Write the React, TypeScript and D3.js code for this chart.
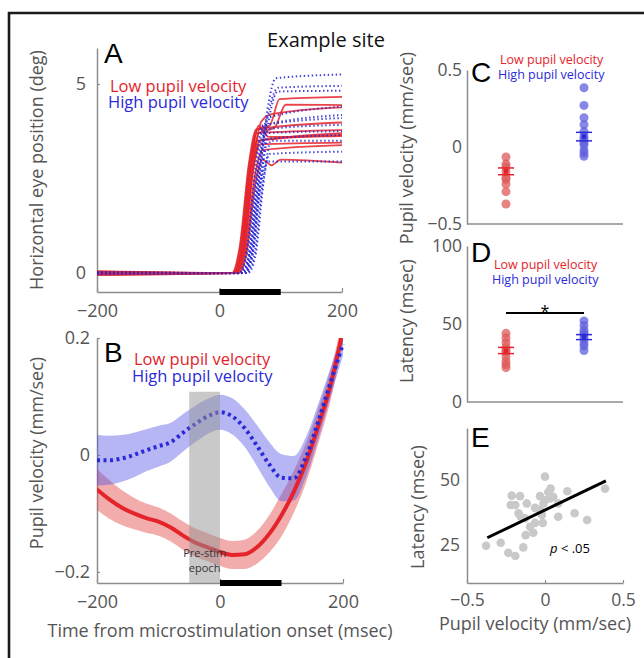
import * as d3 from "d3";
import { useRef, useEffect } from "react";

const W = 644;
const H = 658;
const FONT = "'Open Sans', sans-serif";
const LETTER_FONT = "'Liberation Sans', Arial, sans-serif";
const RED = "#e4232a";
const BLUE = "#2a2ad8";
const GREY = "#555";
const AXIS = "#8c8c8c";

// ---- panel A: single-trial horizontal eye traces (ms, deg)
const lowTraces = [
  [[-200, 0], [22, 0], [35, 0.6], [50, 2.8], [62, 3.8], [82, 3.9], [98, 4.6], [200, 4.66]],
  [[-200, 0.05], [25, 0], [38, 0.6], [52, 2.7], [64, 3.7], [90, 3.85], [108, 4.45], [200, 4.44]],
  [[-200, -0.05], [28, 0], [40, 0.5], [55, 2.8], [68, 4.0], [85, 4.2], [200, 4.38]],
  [[-200, 0], [20, 0], [33, 0.7], [48, 2.9], [60, 3.8], [200, 3.98]],
  [[-200, 0.04], [26, 0], [38, 0.5], [53, 2.6], [66, 3.5], [200, 3.7]],
  [[-200, -0.04], [24, 0], [36, 0.6], [50, 2.7], [62, 3.5], [200, 3.65]],
  [[-200, 0], [30, 0], [42, 0.5], [57, 2.5], [70, 3.25], [200, 3.38]],
  [[-200, 0.03], [32, 0], [44, 0.5], [58, 2.3], [70, 3.0], [85, 2.85], [100, 3.0], [200, 2.92]],
  [[-200, -0.03], [21, 0], [34, 0.7], [49, 2.9], [61, 3.7], [200, 3.78]],
  [[-200, 0.02], [27, 0], [40, 0.6], [54, 2.6], [66, 3.4], [200, 3.45]],
  [[-200, 0], [23, 0], [36, 0.6], [51, 2.8], [64, 3.9], [80, 3.6], [200, 3.62]],
];
const highTraces = [
  [[-200, 0], [36, 0], [48, 0.5], [62, 2.5], [74, 3.9], [92, 5.15], [200, 5.25]],
  [[-200, 0.03], [38, 0], [50, 0.5], [64, 2.5], [76, 3.9], [96, 4.9], [200, 4.95]],
  [[-200, -0.03], [40, 0], [52, 0.5], [66, 2.6], [78, 4.1], [200, 4.4]],
  [[-200, 0], [34, 0], [46, 0.6], [60, 2.6], [72, 3.9], [200, 4.18]],
  [[-200, 0.02], [38, 0], [50, 0.5], [64, 2.5], [76, 3.8], [200, 3.92]],
  [[-200, -0.02], [42, 0], [54, 0.5], [68, 2.5], [80, 3.55], [200, 3.65]],
  [[-200, 0], [44, 0], [56, 0.4], [70, 2.3], [82, 3.15], [200, 3.21]],
  [[-200, 0.02], [36, 0], [48, 0.5], [62, 2.6], [74, 3.7], [200, 3.75]],
  [[-200, -0.02], [40, 0], [52, 0.4], [66, 2.2], [78, 2.95], [200, 2.95]],
  [[-200, 0], [32, 0], [44, 0.6], [58, 2.7], [70, 3.9], [200, 4.1]],
  [[-200, 0], [46, 0], [58, 0.4], [72, 2.4], [84, 3.5], [200, 3.5]],
  [[-200, 0], [42, 0], [54, 0.5], [68, 2.6], [80, 4.0], [95, 4.8], [200, 4.82]],
];
const stimEpoch = [0, 100];

// ---- panel B: mean pupil velocity +/- SE (mm/sec)
const bTime = [-200, -180, -160, -140, -120, -100, -80, -60, -40, -20, 0, 20, 40, 60, 80, 100, 120, 140, 160, 180, 200];
const lowMean = [-0.059, -0.076, -0.09, -0.1, -0.108, -0.114, -0.124, -0.138, -0.15, -0.158, -0.166, -0.171, -0.17, -0.158, -0.135, -0.103, -0.063, -0.013, 0.05, 0.12, 0.215];
const lowSE = [0.035, 0.033, 0.03, 0.027, 0.025, 0.024, 0.024, 0.024, 0.024, 0.024, 0.024, 0.024, 0.025, 0.028, 0.032, 0.036, 0.036, 0.034, 0.03, 0.026, 0.022];
const highMean = [-0.009, -0.009, -0.006, 0, 0.008, 0.015, 0.022, 0.038, 0.053, 0.066, 0.073, 0.066, 0.046, 0.016, -0.016, -0.039, -0.04, -0.003, 0.058, 0.125, 0.19];
const highSE = [0.043, 0.042, 0.04, 0.038, 0.036, 0.035, 0.033, 0.032, 0.031, 0.03, 0.03, 0.031, 0.032, 0.035, 0.038, 0.04, 0.038, 0.034, 0.03, 0.025, 0.02];
const preStim = [-50, 0];
const preStimTop = 0.108;

// ---- panel C: pre-stim pupil velocity per trial
const cLow = [-0.065, -0.11, -0.16, -0.195, -0.24, -0.29, -0.37, -0.13, -0.21];
const cHigh = [0.385, 0.27, 0.19, 0.145, 0.1, 0.05, 0.013, -0.02, -0.06, 0.03, -0.04, 0.07];
const cLowStat = { mean: -0.158, lo: -0.18, hi: -0.136 };
const cHighStat = { mean: 0.068, lo: 0.04, hi: 0.095 };

// ---- panel D: saccade latency per trial (msec)
const dLow = [44, 41, 38, 35, 32, 29, 26, 24, 22, 33];
const dHigh = [52, 49, 46, 43, 41, 38, 36, 33, 44];
const dLowStat = { mean: 32.9, lo: 31, hi: 35 };
const dHighStat = { mean: 41.9, lo: 40, hi: 43.2 };
const dSigLevel = 57;

// ---- panel E: latency vs pupil velocity
const eX = [-0.378, -0.284, -0.235, -0.19, -0.139, -0.124, -0.096, -0.075, -0.064, -0.014, -0.213, -0.16, -0.22, -0.19, -0.117, -0.17, -0.155, -0.128, -0.064, -0.032, 0, -0.032, 0, 0.021, 0.036, 0.053, 0.032, 0.085, 0.085, 0.143, 0.19, 0.27, 0.385, -0.02, -0.01];
const eY = [24.7, 25.9, 22, 20.8, 24.1, 28.8, 32, 29.7, 33.5, 33.5, 44, 43.8, 40.4, 40.4, 41, 37.2, 35.9, 35.3, 39.3, 38.6, 51.3, 43.8, 42.3, 45.4, 46.7, 43.5, 42.9, 41, 35.9, 45.7, 37.2, 34.6, 46.7, 36.6, 41];
const fitX = [-0.37, 0.39];
const fitY = [27.8, 49.7];

function Axis({ axis, transform, size = 18 }) {
  const ref = useRef(null);
  useEffect(() => {
    const g = d3.select(ref.current);
    g.call(axis);
    g.attr("font-size", size).attr("font-family", FONT);
    g.select(".domain").attr("stroke", AXIS).attr("stroke-width", 1.5);
    g.selectAll(".tick line").attr("stroke", AXIS).attr("stroke-width", 1.2);
    g.selectAll(".tick text").attr("fill", GREY);
  }, [axis, size]);
  return <g ref={ref} transform={transform} />;
}

function YTitle({ x, y, text, size = 18 }) {
  return (
    <text transform={`translate(${x},${y}) rotate(-90)`} textAnchor="middle" fontSize={size} fill={GREY} fontFamily={FONT}>
      {text}
    </text>
  );
}

function Legend({ x, y, gap, size }) {
  return (
    <g fontFamily={FONT} fontSize={size}>
      <text x={x} y={y} fill={RED}>Low pupil velocity</text>
      <text x={x - 2} y={y + gap} fill={BLUE}>High pupil velocity</text>
    </g>
  );
}

function Letter({ x, y, t }) {
  return (
    <text x={x} y={y} fontSize={28} fontFamily={LETTER_FONT} fill="#000">{t}</text>
  );
}

function StatMarks({ x, stat, y, color }) {
  return (
    <g stroke={color} strokeWidth={1.5}>
      <line x1={x - 8} x2={x + 8} y1={y(stat.lo)} y2={y(stat.lo)} />
      <line x1={x - 8} x2={x + 8} y1={y(stat.hi)} y2={y(stat.hi)} />
      <rect x={x - 1.5} y={y(stat.mean) - 1.5} width={3} height={3} fill={color} />
    </g>
  );
}

export default function App() {
  // A
  const xA = d3.scaleLinear().domain([-200, 200]).range([97, 342]);
  const yA = d3.scaleLinear().domain([-0.5, 5.95]).range([292, 48]);
  const lineA = d3.line().x((d) => xA(d[0])).y((d) => yA(d[1])).curve(d3.curveMonotoneX);

  // B
  const xB = d3.scaleLinear().domain([-200, 200]).range([97, 343]);
  const yB = d3.scaleLinear().domain([-0.219, 0.2]).range([583, 338]);
  const idx = bTime.map((_, i) => i);
  const meanLine = (m) =>
    d3.line().x((i) => xB(bTime[i])).y((i) => yB(m[i])).curve(d3.curveMonotoneX)(idx);
  const band = (m, s) =>
    d3
      .area()
      .x((i) => xB(bTime[i]))
      .y0((i) => yB(m[i] - s[i]))
      .y1((i) => yB(m[i] + s[i]))
      .curve(d3.curveMonotoneX)(idx);

  // C, D
  const xCD = d3.scaleLinear().domain([0.5, 2.5]).range([467, 623]);
  const yC = d3.scaleLinear().domain([-0.5, 0.5]).range([224, 70]);
  const yD = d3.scaleLinear().domain([0, 100]).range([402, 246]);

  // E
  const xE = d3.scaleLinear().domain([-0.5, 0.5]).range([467, 623]);
  const yE = d3.scaleLinear().domain([10.4, 70]).range([583, 428]);

  const fmt = d3.format("");

  return (
    <svg width={W} height={H} style={{ position: "absolute", left: 0, top: 0, background: "#fff" }}>
      <defs>
        <clipPath id="clipB">
          <rect x={97} y={338} width={250} height={250} />
        </clipPath>
      </defs>
      {/* frame */}
      <path d={`M9,${H + 5} V13 H${W + 5}`} fill="none" stroke="#1a1a1a" strokeWidth={2.6} />
      <text x={326} y={47} textAnchor="middle" fontSize={20} fontFamily={FONT} fill="#111">Example site</text>

      {/* ---------- A ---------- */}
      <Axis axis={d3.axisLeft(yA).tickValues([0, 5]).tickFormat(fmt).tickSizeInner(-3).tickSizeOuter(0).tickPadding(11)} transform="translate(97,0)" />
      <Axis axis={d3.axisBottom(xA).tickValues([-200, 0, 200]).tickFormat(fmt).tickSizeInner(-4).tickSizeOuter(0).tickPadding(12)} transform="translate(0,292)" />
      <g fill="none">
        {lowTraces.map((t, i) => (
          <path key={"r" + i} d={lineA(t)} stroke={RED} strokeWidth={1.8} strokeOpacity={0.85} />
        ))}
        {highTraces.map((t, i) => (
          <path key={"b" + i} d={lineA(t)} stroke={BLUE} strokeWidth={2} strokeDasharray="1.4 2.6" strokeOpacity={0.9} />
        ))}
      </g>
      <rect x={xA(stimEpoch[0])} y={289} width={xA(stimEpoch[1]) - xA(stimEpoch[0])} height={6} fill="#000" />
      <Letter x={104} y={63} t="A" />
      <Legend x={110} y={92} gap={16} size={16.5} />
      <YTitle x={43} y={170} text="Horizontal eye position (deg)" />

      {/* ---------- B ---------- */}
      <Axis axis={d3.axisLeft(yB).tickValues([-0.2, 0, 0.2]).tickFormat(fmt).tickSizeInner(-3).tickSizeOuter(0).tickPadding(7)} transform="translate(97,0)" />
      <Axis axis={d3.axisBottom(xB).tickValues([-200, 0, 200]).tickFormat(fmt).tickSizeInner(-4).tickSizeOuter(0).tickPadding(12)} transform="translate(0,583)" />
      <g clipPath="url(#clipB)">
        <path d={band(lowMean, lowSE)} fill="rgb(228,70,70)" fillOpacity={0.45} />
        <path d={band(highMean, highSE)} fill="rgb(80,80,228)" fillOpacity={0.42} />
        <path d={meanLine(lowMean)} fill="none" stroke={RED} strokeWidth={4} />
        <path d={meanLine(highMean)} fill="none" stroke={BLUE} strokeWidth={4} strokeDasharray="3 3.5" />
        <rect
          x={xB(preStim[0])}
          y={yB(preStimTop)}
          width={xB(preStim[1]) - xB(preStim[0])}
          height={583 - yB(preStimTop)}
          fill="#939393"
          fillOpacity={0.5}
        />
      </g>
      <rect x={xB(stimEpoch[0])} y={580} width={xB(stimEpoch[1]) - xB(stimEpoch[0])} height={6} fill="#000" />
      <g fontFamily={FONT} fontSize={11} fill="#333" textAnchor="middle">
        <text x={xB(-25)} y={557}>Pre-stim</text>
        <text x={xB(-25)} y={572}>epoch</text>
      </g>
      <Letter x={104} y={362} t="B" />
      <Legend x={134} y={365} gap={17} size={16.5} />
      <YTitle x={43} y={453} text="Pupil velocity (mm/sec)" />
      <text x={220} y={637} textAnchor="middle" fontSize={18} fill={GREY} fontFamily={FONT}>
        Time from microstimulation onset (msec)
      </text>

      {/* ---------- C ---------- */}
      <Axis axis={d3.axisLeft(yC).tickValues([-0.5, 0, 0.5]).tickFormat(fmt).tickSizeInner(0).tickSizeOuter(0).tickPadding(5)} transform="translate(467,0)" size={17.5} />
      <line x1={467} x2={623} y1={224} y2={224} stroke={AXIS} strokeWidth={1.5} />
      <g>
        {cLow.map((v, i) => (
          <circle key={"cl" + i} cx={xCD(1)} cy={yC(v)} r={4.5} fill="rgb(222,90,90)" fillOpacity={0.75} />
        ))}
        {cHigh.map((v, i) => (
          <circle key={"ch" + i} cx={xCD(2)} cy={yC(v)} r={4.5} fill="rgb(95,95,222)" fillOpacity={0.75} />
        ))}
      </g>
      <StatMarks x={xCD(1)} stat={cLowStat} y={yC} color={RED} />
      <StatMarks x={xCD(2)} stat={cHighStat} y={yC} color={BLUE} />
      <Letter x={471} y={82} t="C" />
      <Legend x={500} y={64} gap={15} size={12.5} />
      <YTitle x={413} y={148} text="Pupil velocity (mm/sec)" />

      {/* ---------- D ---------- */}
      <Axis axis={d3.axisLeft(yD).tickValues([0, 50, 100]).tickSizeInner(0).tickSizeOuter(0).tickPadding(5)} transform="translate(467,0)" size={17.5} />
      <line x1={467} x2={623} y1={402} y2={402} stroke={AXIS} strokeWidth={1.5} />
      <g>
        {dLow.map((v, i) => (
          <circle key={"dl" + i} cx={xCD(1)} cy={yD(v)} r={4.5} fill="rgb(222,90,90)" fillOpacity={0.75} />
        ))}
        {dHigh.map((v, i) => (
          <circle key={"dh" + i} cx={xCD(2)} cy={yD(v)} r={4.5} fill="rgb(95,95,222)" fillOpacity={0.75} />
        ))}
      </g>
      <StatMarks x={xCD(1)} stat={dLowStat} y={yD} color={RED} />
      <StatMarks x={xCD(2)} stat={dHighStat} y={yD} color={BLUE} />
      <line x1={xCD(1)} x2={xCD(2)} y1={yD(dSigLevel)} y2={yD(dSigLevel)} stroke="#000" strokeWidth={2} />
      <text x={(xCD(1) + xCD(2)) / 2} y={yD(dSigLevel) + 4} textAnchor="middle" fontSize={16} fontFamily={FONT} fill="#000">*</text>
      <Letter x={471} y={262} t="D" />
      <Legend x={494} y={269} gap={15} size={12.5} />
      <YTitle x={413} y={321} text="Latency (msec)" />

      {/* ---------- E ---------- */}
      <Axis axis={d3.axisLeft(yE).tickValues([25, 50]).tickSizeInner(0).tickSizeOuter(0).tickPadding(7)} transform="translate(467,0)" size={17.5} />
      <Axis axis={d3.axisBottom(xE).tickValues([-0.5, 0, 0.5]).tickFormat(fmt).tickSizeInner(-3).tickSizeOuter(0).tickPadding(11)} transform="translate(0,583)" size={17.5} />
      <g>
        {eX.map((v, i) => (
          <circle key={"e" + i} cx={xE(v)} cy={yE(eY[i])} r={4.3} fill="#c9c9c9" />
        ))}
      </g>
      <line x1={xE(fitX[0])} x2={xE(fitX[1])} y1={yE(fitY[0])} y2={yE(fitY[1])} stroke="#000" strokeWidth={3} />
      <text x={550} y={553} fontSize={13} fontFamily={FONT} fill="#000">
        <tspan fontStyle="italic">p</tspan> &lt; .05
      </text>
      <Letter x={471} y={447} t="E" />
      <YTitle x={424} y={507} text="Latency (msec)" />
      <text x={535} y={630} textAnchor="middle" fontSize={18} fill={GREY} fontFamily={FONT}>
        Pupil velocity (mm/sec)
      </text>
    </svg>
  );
}
